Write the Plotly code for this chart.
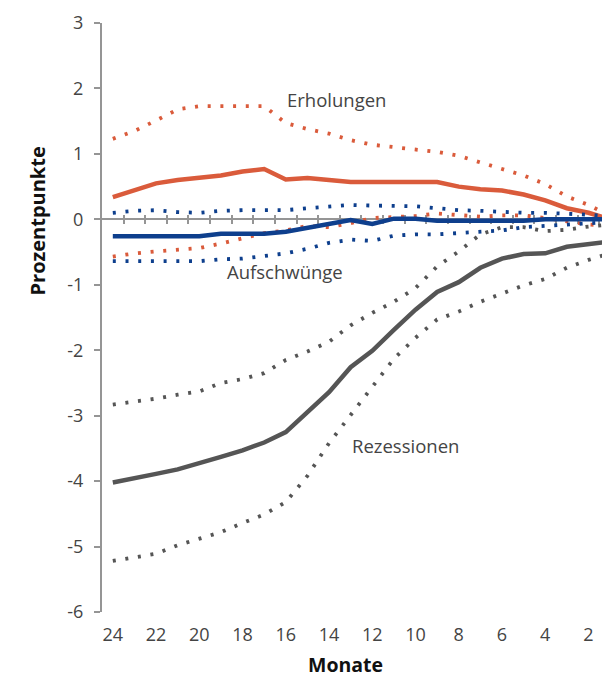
import plotly.graph_objects as go

months = list(range(24, 0, -1))
x_ticks = list(range(24, 1, -2))
x_minor = [m - 0.5 for m in range(24, 1, -1)]
y_ticks = [3, 2, 1, 0, -1, -2, -3, -4, -5, -6]
y_labels = ["3", "2", "1", "0", "-1", "-2", "-3", "-4", "-5", "-6"]

erholungen = [0.34, 0.44, 0.55, 0.60, 0.63, 0.67, 0.73, 0.77, 0.61, 0.63, 0.60, 0.57,
              0.57, 0.57, 0.57, 0.57, 0.50, 0.46, 0.44, 0.38, 0.29, 0.17, 0.10, 0.00]
erholungen_hi = [1.23, 1.35, 1.51, 1.68, 1.73, 1.73, 1.73, 1.73, 1.47, 1.38, 1.31, 1.21,
                 1.14, 1.10, 1.06, 1.03, 0.97, 0.87, 0.77, 0.67, 0.54, 0.35, 0.22, 0.05]
erholungen_lo = [-0.57, -0.52, -0.49, -0.47, -0.44, -0.37, -0.29, -0.21, -0.17, -0.10, -0.12, -0.06,
                 0.02, 0.04, 0.05, 0.09, 0.07, 0.04, 0.06, 0.06, 0.02, -0.03, -0.08, -0.10]

aufschwuenge = [-0.26, -0.26, -0.26, -0.26, -0.26, -0.22, -0.22, -0.22, -0.19, -0.13, -0.06, -0.01,
                -0.07, 0.01, 0.01, -0.02, -0.02, -0.02, -0.02, -0.02, 0.00, 0.00, 0.00, 0.00]
aufschwuenge_hi = [0.10, 0.13, 0.14, 0.11, 0.10, 0.13, 0.14, 0.14, 0.14, 0.17, 0.20, 0.22,
                   0.21, 0.21, 0.20, 0.17, 0.14, 0.13, 0.11, 0.10, 0.10, 0.09, 0.07, 0.05]
aufschwuenge_lo = [-0.64, -0.64, -0.64, -0.64, -0.64, -0.61, -0.60, -0.56, -0.52, -0.45, -0.36, -0.31,
                   -0.33, -0.25, -0.23, -0.23, -0.21, -0.19, -0.17, -0.12, -0.10, -0.08, -0.06, -0.04]

rezessionen = [-4.02, -3.96, -3.89, -3.82, -3.73, -3.63, -3.53, -3.41, -3.25, -2.95, -2.64, -2.26,
               -2.01, -1.69, -1.38, -1.11, -0.96, -0.74, -0.60, -0.53, -0.52, -0.42, -0.37, -0.34]
rezessionen_hi = [-2.83, -2.79, -2.74, -2.68, -2.63, -2.50, -2.44, -2.35, -2.15, -2.02, -1.87, -1.62,
                  -1.43, -1.26, -1.05, -0.72, -0.49, -0.23, -0.12, -0.12, -0.18, -0.16, -0.11, -0.08]
rezessionen_lo = [-5.22, -5.17, -5.11, -4.98, -4.88, -4.78, -4.64, -4.51, -4.32, -3.92, -3.42, -3.00,
                  -2.56, -2.13, -1.81, -1.53, -1.41, -1.26, -1.14, -1.01, -0.91, -0.74, -0.62, -0.52]

RED = "#DA5B3B"
BLUE = "#0E3F8D"
GRAY = "#555555"
AXIS = "#959595"
TEXT = "#444444"
FONT = "Open Sans"
DOT = "3px,9.7px"

fig = go.Figure()

# empty traces so that the zero-line axes are drawn
for ax in ("x2", "x3"):
    fig.add_trace(go.Scatter(x=[], y=[], xaxis=ax, yaxis="y", showlegend=False, hoverinfo="skip"))

series = [
    (rezessionen_hi, GRAY, DOT, 3.8),
    (rezessionen_lo, GRAY, DOT, 3.8),
    (rezessionen, GRAY, "solid", 4.5),
    (erholungen_hi, RED, DOT, 3.8),
    (erholungen_lo, RED, DOT, 3.8),
    (erholungen, RED, "solid", 4.5),
    (aufschwuenge_hi, BLUE, DOT, 3.8),
    (aufschwuenge_lo, BLUE, DOT, 3.8),
    (aufschwuenge, BLUE, "solid", 4.5),
]
for vals, col, dash, w in series:
    fig.add_trace(go.Scatter(x=months, y=vals, mode="lines",
                             line=dict(color=col, width=w, dash=dash),
                             showlegend=False, hoverinfo="skip"))

xr = [24.5, 1.375]
fig.update_layout(
    width=602, height=679,
    margin=dict(l=102, r=0, t=23, b=67),
    paper_bgcolor="white", plot_bgcolor="white",
    font=dict(family=FONT, size=18, color=TEXT),
    xaxis=dict(range=xr, tickvals=x_ticks, ticktext=[str(v) for v in x_ticks],
               showline=False, ticks="", showgrid=False, zeroline=False,
               ticklabelstandoff=10, tickfont=dict(size=18, color=TEXT)),
    xaxis2=dict(range=xr, overlaying="x", anchor="free", position=6 / 9, side="bottom",
                showline=True, linecolor=AXIS, linewidth=2, layer="below traces",
                tickvals=x_minor, ticks="outside", ticklen=4, tickwidth=2, tickcolor=AXIS,
                showticklabels=False, showgrid=False, zeroline=False),
    xaxis3=dict(range=xr, overlaying="x", anchor="free", position=6 / 9, side="bottom",
                showline=False, layer="below traces",
                tickvals=x_minor, ticks="inside", ticklen=4, tickwidth=2, tickcolor=AXIS,
                showticklabels=False, showgrid=False, zeroline=False),
    yaxis=dict(range=[-6, 3], tickvals=y_ticks, ticktext=y_labels,
               showline=True, linecolor=AXIS, linewidth=2,
               ticks="outside", ticklen=6, tickwidth=2, tickcolor=AXIS,
               showgrid=False, zeroline=False, ticklabelstandoff=7,
               tickfont=dict(size=18, color=TEXT)),
    annotations=[
        dict(text="Erholungen", x=13.64, y=1.83, xref="x", yref="y", showarrow=False,
             font=dict(size=18.5, color=TEXT)),
        dict(text="Aufschwünge", x=16.04, y=-0.80, xref="x", yref="y", showarrow=False,
             font=dict(size=18.5, color=TEXT)),
        dict(text="Rezessionen", x=10.47, y=-3.45, xref="x", yref="y", showarrow=False,
             font=dict(size=18.5, color=TEXT)),
        dict(text="<b>Prozentpunkte</b>", x=(37 - 102) / 500, y=(612.5 - 222) / 589,
             xref="paper", yref="paper", showarrow=False, textangle=-90,
             xanchor="center", yanchor="middle", font=dict(size=20, color="#111111")),
        dict(text="<b>Monate</b>", x=(345 - 102) / 500, y=(612.5 - 665) / 589,
             xref="paper", yref="paper", showarrow=False, borderpad=0,
             xanchor="center", yanchor="middle", font=dict(size=19.5, color="#111111")),
    ],
)

fig.write_html("out.html")
